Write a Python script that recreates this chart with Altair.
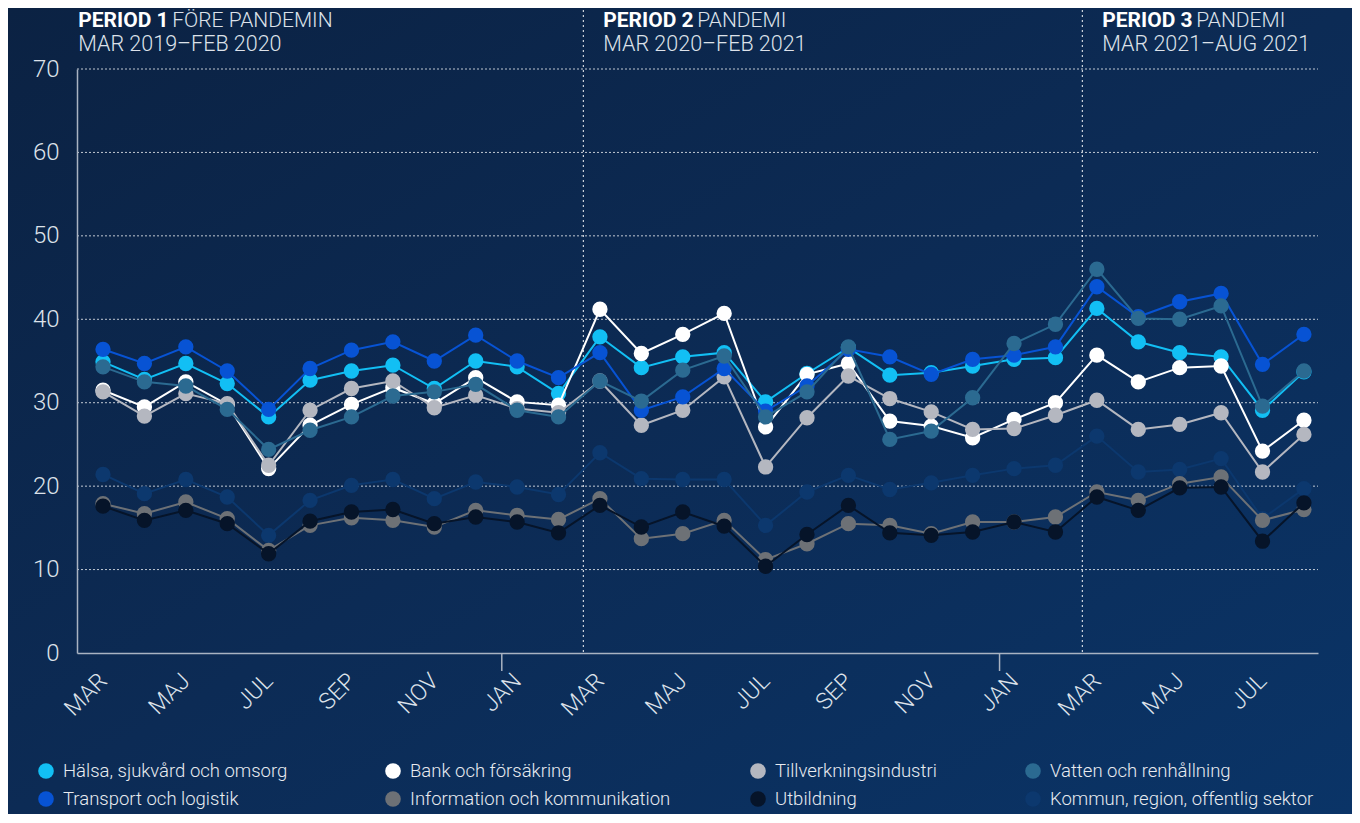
import altair as alt
import pandas as pd

months = ["MAR", "APR", "MAJ", "JUN", "JUL", "AUG", "SEP", "OKT", "NOV", "DEC", "JAN", "FEB",
          "MAR", "APR", "MAJ", "JUN", "JUL", "AUG", "SEP", "OKT", "NOV", "DEC", "JAN", "FEB",
          "MAR", "APR", "MAJ", "JUN", "JUL", "AUG"]

halsa = [34.9, 32.8, 34.7, 32.3, 28.3, 32.7, 33.8, 34.5, 31.7, 35.0, 34.3, 31.1, 37.9, 34.2, 35.5,
         36.0, 30.1, 33.5, 36.6, 33.3, 33.6, 34.4, 35.2, 35.4, 41.3, 37.3, 36.0, 35.5, 29.1, 33.7]
transport = [36.4, 34.7, 36.7, 33.8, 29.2, 34.1, 36.3, 37.3, 35.0, 38.1, 35.0, 33.0, 36.0, 29.1, 30.7,
             34.1, 29.0, 32.0, 36.4, 35.5, 33.4, 35.2, 35.7, 36.7, 43.9, 40.3, 42.1, 43.1, 34.6, 38.2]
bank = [31.5, 29.5, 32.5, 29.8, 22.1, 27.3, 29.8, 31.8, 29.9, 33.0, 30.1, 29.7, 41.2, 35.9, 38.2,
        40.7, 27.1, 33.4, 34.7, 27.8, 27.2, 25.8, 28.0, 30.0, 35.7, 32.5, 34.2, 34.4, 24.2, 27.9]
tillverkning = [31.3, 28.4, 31.1, 29.9, 22.5, 29.1, 31.7, 32.6, 29.4, 30.9, 29.3, 28.8, 32.6, 27.3, 29.1,
                33.1, 22.3, 28.2, 33.2, 30.5, 28.9, 26.8, 26.9, 28.5, 30.3, 26.8, 27.4, 28.8, 21.7, 26.2]
vatten = [34.3, 32.5, 32.0, 29.2, 24.4, 26.7, 28.3, 30.8, 31.3, 32.2, 29.1, 28.3, 32.6, 30.2, 33.9,
          35.6, 28.3, 31.3, 36.7, 25.6, 26.6, 30.6, 37.1, 39.4, 46.0, 40.1, 40.0, 41.6, 29.6, 33.8]
information = [17.9, 16.7, 18.1, 16.1, 12.3, 15.3, 16.2, 15.9, 15.1, 17.1, 16.5, 16.0, 18.5, 13.7, 14.3,
               15.9, 11.2, 13.1, 15.5, 15.3, 14.3, 15.7, 15.7, 16.3, 19.3, 18.3, 20.3, 21.1, 15.9, 17.2]
utbildning = [17.6, 15.9, 17.1, 15.5, 11.9, 15.8, 16.9, 17.2, 15.5, 16.3, 15.7, 14.4, 17.7, 15.1, 16.9,
              15.2, 10.4, 14.2, 17.7, 14.4, 14.1, 14.5, 15.7, 14.5, 18.7, 17.1, 19.8, 19.9, 13.4, 18.0]
kommun = [21.4, 19.1, 20.8, 18.7, 14.1, 18.3, 20.1, 20.8, 18.5, 20.5, 19.9, 19.0, 24.0, 20.9, 20.8,
          20.8, 15.3, 19.3, 21.3, 19.6, 20.4, 21.3, 22.1, 22.5, 26.0, 21.7, 22.0, 23.3, 16.1, 19.7]

series_names = ["Hälsa, sjukvård och omsorg", "Bank och försäkring", "Tillverkningsindustri",
                "Vatten och renhållning", "Transport och logistik", "Information och kommunikation",
                "Utbildning", "Kommun, region, offentlig sektor"]
series_values = [halsa, bank, tillverkning, vatten, transport, information, utbildning, kommun]
series_colors = ["#12bff4", "#ffffff", "#b4b7c0", "#2b6a91", "#0753d4", "#6d7176", "#061429", "#0c386e"]
draw_order = ["Kommun, region, offentlig sektor", "Information och kommunikation", "Utbildning",
              "Hälsa, sjukvård och omsorg", "Bank och försäkring", "Tillverkningsindustri",
              "Transport och logistik", "Vatten och renhållning"]

y_ticks = [0, 10, 20, 30, 40, 50, 60, 70]
period_bold = ["PERIOD 1", "PERIOD 2", "PERIOD 3"]
period_light = ["FÖRE PANDEMIN", "PANDEMI", "PANDEMI"]
period_range = ["MAR 2019–FEB 2020", "MAR 2020–FEB 2021", "MAR 2021–AUG 2021"]
period_breaks = [11.6, 23.65]
year_breaks = [9.63, 21.65]

X_MIN, X_MAX = -0.628, 29.34
W, H = 1241, 584
PAD_L, PAD_T, PAD_R, PAD_B = 69, 61, 34, 161
FONT = "Roboto"
TXT = "#dde2ea"

# legend layout (pixels relative to the plot area)
LEG_COL_X = [-31, 316, 681, 956]
LEG_ROW_Y = [702, 730]
LEG_TEXT_DX = 17

rows = []
for name, vals in zip(series_names, series_values):
    for i, v in enumerate(vals):
        rows.append({"serie": name, "idx": i, "value": v})
df = pd.DataFrame(rows)

leg_df = pd.DataFrame({
    "serie": series_names,
    "px": [LEG_COL_X[i % 4] for i in range(len(series_names))],
    "py": [LEG_ROW_Y[i // 4] for i in range(len(series_names))],
})

color_scale = alt.Scale(domain=series_names, range=series_colors)
xscale = alt.Scale(domain=[X_MIN, X_MAX], nice=False, zero=False)
yscale = alt.Scale(domain=[0, 70], nice=False)
label_expr = "[" + ",".join("'%s'" % m for m in months) + "][datum.value]"

x_axis = alt.Axis(values=list(range(0, 30, 2)), labelExpr=label_expr, labelAngle=-45, labelAlign="right",
                  labelBaseline="middle", labelFontSize=23, labelFont=FONT, labelFontWeight=300, labelColor=TXT,
                  labelPadding=24, ticks=False, grid=False, domainColor="#a9b3c2", domainWidth=1.5, title=None,
                  zindex=1)
y_axis = alt.Axis(values=y_ticks, labelFontSize=24, labelFont=FONT, labelFontWeight=300,
                  labelColor=TXT, labelPadding=18, ticks=False, grid=False, domainColor="#a9b3c2",
                  domainWidth=1.5, title=None, zindex=1)

bg = alt.Chart(pd.DataFrame({"a": [0]})).mark_rect(
    color=alt.LinearGradient(gradient="linear", x1=0, y1=0, x2=1, y2=1,
                             stops=[alt.GradientStop(color="#0b2243", offset=0),
                                    alt.GradientStop(color="#0c2b55", offset=0.5),
                                    alt.GradientStop(color="#0a3467", offset=1)])
).encode(x=alt.value(-PAD_L), x2=alt.value(W + PAD_R), y=alt.value(-PAD_T), y2=alt.value(H + PAD_B))

layers = [bg]

grid = alt.Chart(pd.DataFrame({"g": y_ticks[1:]})).mark_rule(
    color="#ffffff", opacity=0.75, strokeDash=[2, 2], strokeWidth=1
).encode(y=alt.Y("g:Q", scale=yscale), x=alt.value(0), x2=alt.value(W))
layers.append(grid)

prule = alt.Chart(pd.DataFrame({"xb": period_breaks})).mark_rule(
    color="#ffffff", opacity=0.8, strokeDash=[2, 3], strokeWidth=1.2
).encode(x=alt.X("xb:Q", scale=xscale), y=alt.value(-PAD_T + 2), y2=alt.value(H))
layers.append(prule)

yrule = alt.Chart(pd.DataFrame({"xb": year_breaks})).mark_rule(
    color="#a9b3c2", strokeWidth=1.5
).encode(x=alt.X("xb:Q", scale=xscale), y=alt.value(H), y2=alt.value(H + 18))
layers.append(yrule)

first = True
for name in draw_order:
    sub = alt.Chart(df).transform_filter(alt.datum.serie == name)
    line = sub.mark_line(strokeWidth=2).encode(
        x=alt.X("idx:Q", scale=xscale, axis=x_axis if first else alt.Undefined),
        y=alt.Y("value:Q", scale=yscale, axis=y_axis if first else alt.Undefined),
        color=alt.Color("serie:N", scale=color_scale, legend=None),
    )
    pts = sub.mark_circle(size=235, opacity=1).encode(
        x=alt.X("idx:Q", scale=xscale),
        y=alt.Y("value:Q", scale=yscale),
        color=alt.Color("serie:N", scale=color_scale, legend=None),
    )
    layers += [line, pts]
    first = False

leg_sym = alt.Chart(leg_df).mark_circle(size=245, opacity=1).encode(
    x=alt.X("px:Q", scale=None), y=alt.Y("py:Q", scale=None),
    color=alt.Color("serie:N", scale=color_scale, legend=None))
leg_txt = alt.Chart(leg_df).mark_text(align="left", baseline="middle", font=FONT, fontWeight=300,
                                      fontSize=18.5, color="#e8ebf0", dx=LEG_TEXT_DX).encode(
    x=alt.X("px:Q", scale=None), y=alt.Y("py:Q", scale=None), text="serie:N")
layers += [leg_sym, leg_txt]

start_x = [X_MIN + 0.03] + [b + 0.48 for b in period_breaks]
pdf = pd.DataFrame({"x": start_x, "bold": period_bold, "light": period_light, "rng": period_range})
t1 = alt.Chart(pdf).mark_text(align="left", baseline="alphabetic", font=FONT, fontWeight="bold",
                              fontSize=21, color="#ffffff").encode(
    x=alt.X("x:Q", scale=xscale), y=alt.value(-42), text="bold:N")
t2 = alt.Chart(pdf).mark_text(align="left", baseline="alphabetic", font=FONT, fontWeight=300,
                              fontSize=21, color=TXT, dx=94).encode(
    x=alt.X("x:Q", scale=xscale), y=alt.value(-42), text="light:N")
t3 = alt.Chart(pdf).mark_text(align="left", baseline="alphabetic", font=FONT, fontWeight=300,
                              fontSize=21.5, color=TXT).encode(
    x=alt.X("x:Q", scale=xscale), y=alt.value(-18), text="rng:N")
layers += [t1, t2, t3]

chart = alt.layer(*layers).properties(
    width=W, height=H,
    autosize=alt.AutoSizeParams(type="none"),
    padding={"left": PAD_L, "top": PAD_T, "right": PAD_R, "bottom": PAD_B},
    background="#0c2a52",
).configure_view(stroke=None)

chart.save("out.html", embed_options={"renderer": "svg", "actions": False})
